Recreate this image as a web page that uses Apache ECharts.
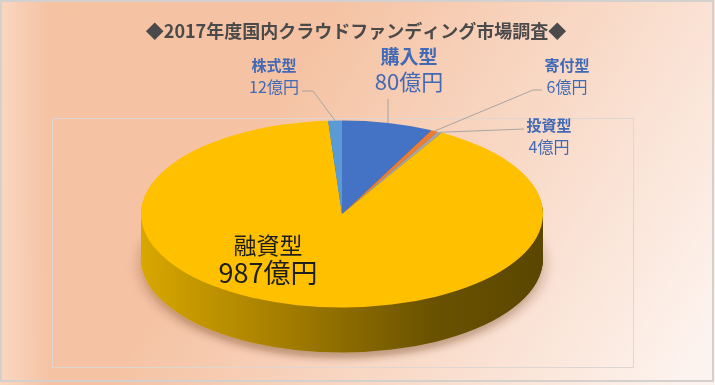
<!DOCTYPE html>
<html>
<head>
<meta charset="utf-8">
<script src="https://cdn.jsdelivr.net/npm/echarts@6/dist/echarts.min.js"></script>
<style>
  html, body { margin:0; padding:0; background:#fff; }
  #wrap { position:relative; width:715px; height:385px; overflow:hidden; }
  #bg, #lbl { position:absolute; left:0; top:0; width:715px; height:385px; }
  #pie { position:absolute; left:0; top:0; width:715px; }
</style>
</head>
<body>
<div id="wrap">
  <div id="bg"></div>
  <div id="pie"></div>
  <div id="lbl"></div>
</div>
<script>
// ---- data ----
const title = '◆2017年度国内クラウドファンディング市場調査◆';
const categories = ['購入型', '寄付型', '投資型', '融資型', '株式型'];
const values = [80, 6, 4, 987, 12];
const unit = '億円';
const sliceColors = ['#4472C4', '#ED7D31', '#A5A5A5', '#FFC000', '#5B9BD5'];
const sideColors = ['#2d4f8c', '#a8561f', '#707070', null, '#3e6d98'];

// ---- layout (screen px) ----
const CX = 342, CY = 214, RX = 201, RY = 93.5, DEPTH = 45;
const S = RY / RX;
const labelLayout = {
  '購入型': { x: 409, y1: 57, y2: 82, s1: 19, s2: 22, w1: 'bold', color: '#4169b5' },
  '寄付型': { x: 567, y1: 65, y2: 87, s1: 15, s2: 16, w1: 'bold', color: '#4169b5' },
  '投資型': { x: 549, y1: 125, y2: 147, s1: 15, s2: 16, w1: 'bold', color: '#4169b5' },
  '融資型': { x: 268, y1: 245, y2: 273, s1: 23, s2: 27, w1: 'normal', color: '#1e1e1e' },
  '株式型': { x: 274, y1: 65, y2: 87, s1: 15, s2: 16, w1: 'bold', color: '#4169b5' }
};
const FONT = '"Noto Sans CJK JP", "Noto Sans", sans-serif';

// ---- background chart ----
const bg = echarts.init(document.getElementById('bg'), null, { renderer: 'canvas', width: 715, height: 385 });
bg.setOption({
  backgroundColor: {
    type: 'linear', x: 0.05, y: 0, x2: 0.95, y2: 1,
    colorStops: [
      { offset: 0, color: '#f5c2a2' },
      { offset: 0.35, color: '#f5c3a4' },
      { offset: 0.7, color: '#f9dccb' },
      { offset: 1, color: '#fdf3ee' }
    ]
  },
  title: {
    text: title, left: 351, top: 17, textAlign: 'center',
    textStyle: { fontFamily: FONT, fontSize: 18, fontWeight: 'bold', color: '#4a4a4a' }
  },
  graphic: [
    { type: 'rect', shape: { x: 0, y: 0, width: 50, height: 385 },
      style: { fill: { type: 'linear', x: 0, y: 0, x2: 1, y2: 0,
        colorStops: [{ offset: 0, color: 'rgba(255,235,222,0.5)' }, { offset: 1, color: 'rgba(255,235,222,0)' }] } }, silent: true },
    { type: 'rect', shape: { x: 52.5, y: 118.5, width: 581, height: 249 },
      style: { fill: 'none', stroke: '#ded6d2', lineWidth: 1 }, silent: true },
    { type: 'rect', shape: { x: 1, y: 1, width: 712, height: 380 },
      style: { fill: 'none', stroke: '#d4d0ce', lineWidth: 2 }, silent: true }
  ]
});

// ---- pie (3D look by squashing + stacked layers) ----
const cyU = CY / S;
const depthU = DEPTH / S;
const PH = Math.ceil(cyU + depthU + RX + 40);
const pieDiv = document.getElementById('pie');
pieDiv.style.height = PH + 'px';
pieDiv.style.transform = 'scaleY(' + S + ')';
pieDiv.style.transformOrigin = '0 0';
const pie = echarts.init(pieDiv, null, { renderer: 'svg', width: 715, height: PH });

const sideGradient = {
  type: 'linear', x: 0, y: 0, x2: 1, y2: 0,
  colorStops: [
    { offset: 0, color: '#d8a700' },
    { offset: 0.35, color: '#a57e00' },
    { offset: 0.72, color: '#6a5200' },
    { offset: 1, color: '#5a4600' }
  ]
};
function pieLayer(offsetU, top, isBottom) {
  return {
    type: 'pie', silent: true, animation: false,
    center: [CX, cyU + offsetU], radius: RX,
    startAngle: 90, clockwise: true, avoidLabelOverlap: false,
    label: { show: false }, labelLine: { show: false },
    emphasis: { disabled: true },
    itemStyle: isBottom ? { shadowBlur: 14, shadowColor: 'rgba(90,40,0,0.35)', shadowOffsetY: 6 / S, borderWidth: 0 } : { borderWidth: 0 },
    data: categories.map((c, i) => ({
      name: c, value: values[i],
      itemStyle: { color: top ? sliceColors[i] : (sideColors[i] || sideGradient) }
    }))
  };
}
const series = [];
for (let d = DEPTH; d >= 1; d -= 0.8) {
  series.push(pieLayer(d / S, false, d === DEPTH));
}
series.push(pieLayer(0, true, false));
pie.setOption({ series: series });

// ---- labels & leader lines ----
const total = values.reduce((a, b) => a + b, 0);
const edge = {};
let cum = 0;
categories.forEach((c, i) => {
  const th = (cum + values[i] / 2) / total * 2 * Math.PI;
  edge[c] = [CX + RX * Math.sin(th), CY - RY * Math.cos(th)];
  cum += values[i];
});
const lineStyle = { stroke: '#a8a4a2', lineWidth: 1, fill: 'none' };
const leaders = [
  { type: 'polyline', shape: { points: [[302, 91], [313, 91], edge['株式型']] }, style: lineStyle, silent: true },
  { type: 'polyline', shape: { points: [[edge['購入型'][0], 99], edge['購入型']] }, style: lineStyle, silent: true },
  { type: 'polyline', shape: { points: [[542, 90], [533, 90], edge['寄付型']] }, style: lineStyle, silent: true },
  { type: 'polyline', shape: { points: [[524, 129], edge['投資型']] }, style: lineStyle, silent: true }
];
const texts = [];
categories.forEach((c, i) => {
  const L = labelLayout[c];
  texts.push({ type: 'text', x: L.x, y: L.y1, silent: true,
    style: { text: c, fontFamily: FONT, fontSize: L.s1, fontWeight: L.w1, fill: L.color, align: 'center', verticalAlign: 'middle' } });
  texts.push({ type: 'text', x: L.x, y: L.y2, silent: true,
    style: { text: values[i] + unit, fontFamily: FONT, fontSize: L.s2, fontWeight: 'normal', fill: L.color, align: 'center', verticalAlign: 'middle' } });
});
const lbl = echarts.init(document.getElementById('lbl'), null, { renderer: 'canvas', width: 715, height: 385 });
lbl.setOption({ backgroundColor: 'transparent', graphic: leaders.concat(texts) });
</script>
</body>
</html>
